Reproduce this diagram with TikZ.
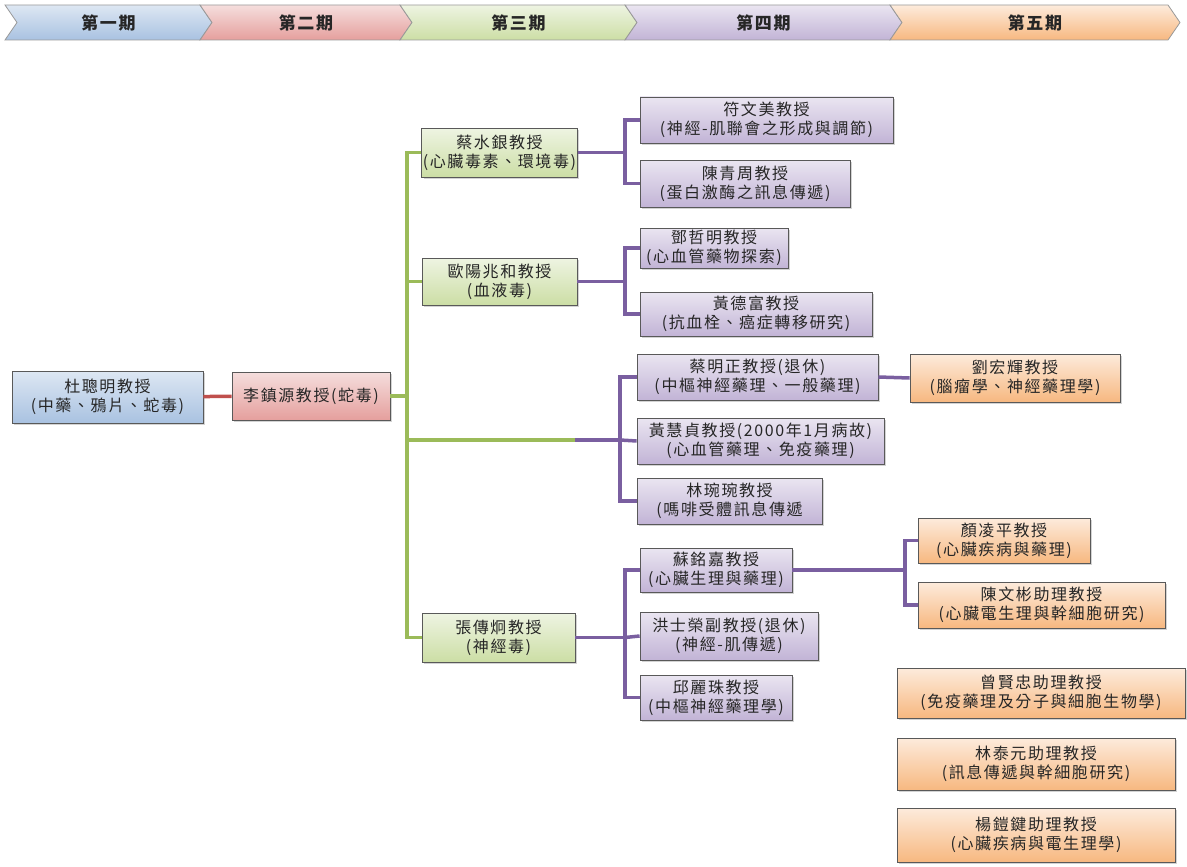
\documentclass[tikz,border=0pt]{standalone}
\usepackage{fontspec}
\usetikzlibrary{shadows}
\newfontfamily\cjk[LetterSpace=10]{Noto Sans CJK TC}
\definecolor{blue1}{HTML}{DDE7F3}
\definecolor{blue2}{HTML}{A9C2E1}
\definecolor{red1}{HTML}{F5DEDD}
\definecolor{red2}{HTML}{E59F9D}
\definecolor{green1}{HTML}{EEF4E2}
\definecolor{green2}{HTML}{CCDEA5}
\definecolor{purple1}{HTML}{EAE5F1}
\definecolor{purple2}{HTML}{C2B4D6}
\definecolor{orange1}{HTML}{FDEBDC}
\definecolor{orange2}{HTML}{F7B880}
\definecolor{greenln}{HTML}{9BBB59}
\definecolor{purpleln}{HTML}{7A5FA0}
\definecolor{redln}{HTML}{C0504D}
\tikzstyle{phase}=[draw=gray!80, line width=0.8pt]
\tikzstyle{phasetext}=[font=\cjk\bfseries\fontsize{17}{20}\selectfont, text=black!85]
\tikzstyle{box}=[draw=gray!70!black, line width=0.8pt, align=center, inner sep=1pt,
  drop shadow={opacity=0.35, shadow xshift=2pt, shadow yshift=-2pt},
  font=\cjk\fontsize{16}{19}\selectfont, text=black!85]
\tikzstyle{bluebox}=[box, top color=blue1, bottom color=blue2]
\tikzstyle{redbox}=[box, top color=red1, bottom color=red2]
\tikzstyle{greenbox}=[box, top color=green1, bottom color=green2]
\tikzstyle{purplebox}=[box, top color=purple1, bottom color=purple2]
\tikzstyle{orangebox}=[box, top color=orange1, bottom color=orange2]
\tikzstyle{greenline}=[greenln, line width=3.5pt]
\tikzstyle{purpleline}=[purpleln, line width=3.5pt]
\tikzstyle{redline}=[redln, line width=3.5pt]

\begin{document}
\begin{tikzpicture}[x=1pt, y=-1pt]
\useasboundingbox (0,0) rectangle (1187,867);
\foreach \xl/\xr/\col/\n/\t in {5/200/blue/p1/第一期, 200/400/red/p2/第二期,
  400/625/green/p3/第三期, 625/890/purple/p4/第四期, 890/1168/orange/p5/第五期} {
  \draw[phase, top color=\col1, bottom color=\col2] (\xl,5) -- (\xr,5) -- (\xr+12,22.5)
    -- (\xr,40) -- (\xl,40) -- (\xl+12,22.5) -- cycle;
  \node[phasetext] (\n) at ({(\xl+\xr)/2+6},22.5) {\t};
}

\node[bluebox, minimum width=191, minimum height=52] (du) at (107.5,397) {杜聰明教授\\(中藥、鴉片、蛇毒)};
\node[redbox, minimum width=158, minimum height=48] (li) at (311,396) {李鎮源教授(蛇毒)};

\node[greenbox, minimum width=155, minimum height=49] (cai) at (499.5,152.5) {蔡水銀教授\\(心臟毒素、環境毒)};
\node[greenbox, minimum width=155, minimum height=47] (ouyang) at (499.5,281.5) {歐陽兆和教授\\(血液毒)};
\node[greenbox, minimum width=153, minimum height=49] (zhang) at (498.5,637.5) {張傳炯教授\\(神經毒)};

\node[purplebox, minimum width=253, minimum height=46] (fu) at (766.5,120) {符文美教授\\(神經-肌聯會之形成與調節)};
\node[purplebox, minimum width=210, minimum height=47] (chenq) at (745,183.5) {陳青周教授\\(蛋白激酶之訊息傳遞)};
\node[purplebox, minimum width=148, minimum height=40] (deng) at (714,248) {鄧哲明教授\\(心血管藥物探索)};
\node[purplebox, minimum width=232, minimum height=44] (huangd) at (756,314) {黃德富教授\\(抗血栓、癌症轉移研究)};
\node[purplebox, minimum width=241, minimum height=46] (caim) at (757.5,377) {蔡明正教授(退休)\\(中樞神經藥理、一般藥理)};
\node[purplebox, minimum width=247, minimum height=46] (huangh) at (760.5,441) {黃慧貞教授(2000年1月病故)\\(心血管藥理、免疫藥理)};
\node[purplebox, minimum width=185, minimum height=46] (lin) at (729.5,501) {林琬琬教授\\(嗎啡受體訊息傳遞};
\node[purplebox, minimum width=152, minimum height=44] (su) at (716,570) {蘇銘嘉教授\\(心臟生理與藥理)};
\node[purplebox, minimum width=178, minimum height=48] (hong) at (729,636) {洪士榮副教授(退休)\\(神經-肌傳遞)};
\node[purplebox, minimum width=152, minimum height=45] (qiu) at (716,697.5) {邱麗珠教授\\(中樞神經藥理學)};

\node[orangebox, minimum width=210, minimum height=48] (liu) at (1015,378) {劉宏輝教授\\(腦瘤學、神經藥理學)};
\node[orangebox, minimum width=172, minimum height=45] (yan) at (1004,540.5) {顏凌平教授\\(心臟疾病與藥理)};
\node[orangebox, minimum width=247, minimum height=46] (chenw) at (1041.5,605) {陳文彬助理教授\\(心臟電生理與幹細胞研究)};
\node[orangebox, minimum width=288, minimum height=50] (zeng) at (1041,693) {曾賢忠助理教授\\(免疫藥理及分子與細胞生物學)};
\node[orangebox, minimum width=278, minimum height=52] (lint) at (1036,764) {林泰元助理教授\\(訊息傳遞與幹細胞研究)};
\node[orangebox, minimum width=278, minimum height=54] (yang) at (1036,835) {楊鎧鍵助理教授\\(心臟疾病與電生理學)};

\coordinate (gv) at (407,396);
\coordinate (mid) at (575,440);
\coordinate (pv1) at (625,152.5);
\coordinate (pv2) at (625,281.5);
\coordinate (pv3) at (620,440);
\coordinate (pv4) at (625,637.5);
\coordinate (pv5) at (905,570);

\draw[redline] (du) -- (li);
\draw[greenline] (li.east) -- (gv);
\draw[greenline] (cai.west) -| (gv) |- (zhang.west);
\draw[greenline] (ouyang.west) -| (gv);
\draw[greenline] (gv |- mid) -- (mid);
\draw[purpleline] (mid) -- (pv3);
\draw[purpleline] (cai.east) -- (pv1);
\draw[purpleline] (fu.west) -| (pv1) |- (chenq.west);
\draw[purpleline] (ouyang.east) -- (pv2);
\draw[purpleline] (deng.west) -| (pv2) |- (huangd.west);
\draw[purpleline] (caim.west) -| (pv3) |- (lin.west);
\draw[purpleline] (huangh.west) -- (pv3);
\draw[purpleline] (zhang.east) -- (pv4);
\draw[purpleline] (su.west) -| (pv4) |- (qiu.west);
\draw[purpleline] (hong.west) -- (pv4);
\draw[purpleline] (caim.east) -- (liu.west);
\draw[purpleline] (su.east) -- (pv5);
\draw[purpleline] (yan.west) -| (pv5) |- (chenw.west);
\end{tikzpicture}
\end{document}
